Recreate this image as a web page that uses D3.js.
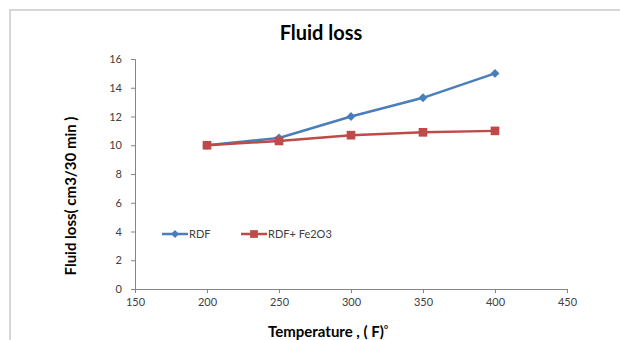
<!DOCTYPE html>
<html lang="en">
<head>
    <meta charset="UTF-8">
    <script src="https://cdn.jsdelivr.net/npm/d3@7"></script>
    <title>Fluid loss</title>
    <style>
        * { margin: 0; padding: 0; box-sizing: border-box; }
        body { background: #fff; }
        svg { display: block; font-family: Lato, "Open Sans", sans-serif; }
    </style>
</head>
<body>
    <svg width="620" height="340"></svg>
    <script>
        let temps = [200, 250, 300, 350, 400]
        let rdf = [10, 10.5, 12, 13.3, 15]
        let rdfFe = [10, 10.3, 10.7, 10.9, 11]
        let xTicks = [150, 200, 250, 300, 350, 400, 450]
        let yTicks = [0, 2, 4, 6, 8, 10, 12, 14, 16]

        let svg = d3.select('svg')

        // chart frame
        svg.append('path')
            .attr('d', 'M10,340 L10,10 L620,10')
            .attr('fill', 'none')
            .attr('stroke', '#c9c9c9')
            .attr('stroke-width', 1.5)

        let x = d3.scaleLinear().domain([150, 450]).range([135, 567])
        let y = d3.scaleLinear().domain([0, 16]).range([289, 59])

        let xAxis = svg.append('g')
            .attr('transform', 'translate(0,289)')
            .call(d3.axisBottom(x).tickValues(xTicks).tickSize(4).tickPadding(5))
        let yAxis = svg.append('g')
            .attr('transform', 'translate(135,0)')
            .call(d3.axisLeft(y).tickValues(yTicks).tickSize(4).tickPadding(9))

        for (let g of [xAxis, yAxis]) {
            g.select('.domain').attr('stroke', '#868686')
            g.selectAll('.tick line').attr('stroke', '#868686')
            g.selectAll('.tick text')
                .attr('fill', '#404040')
                .style('font-size', '11px')
                .style('font-family', 'Lato, "Open Sans", sans-serif')
        }

        // rdf uses a square turned 45deg, like an excel diamond
        let series = [
            { name: 'RDF', values: rdf, color: '#4a7ebb', size: 40, rot: 45 },
            { name: 'RDF+ Fe2O3', values: rdfFe, color: '#be4b48', size: 75, rot: 0 }
        ]

        let line = d3.line().x((d, i) => x(temps[i])).y(d => y(d))

        series.forEach(s => {
            svg.append('path')
                .datum(s.values)
                .attr('d', line)
                .attr('fill', 'none')
                .attr('stroke', s.color)
                .attr('stroke-width', 2.5)
            svg.selectAll(null)
                .data(s.values)
                .join('path')
                .attr('transform', (d, i) => `translate(${x(temps[i])},${y(d)}) rotate(${s.rot})`)
                .attr('d', d3.symbol(d3.symbolSquare, s.size))
                .attr('fill', s.color)
        })

        // legend
        let legendX = [162, 241]
        series.forEach((s, i) => {
            let g = svg.append('g').attr('transform', `translate(${legendX[i]},234)`)
            g.append('line').attr('x1', 0).attr('x2', 26).attr('stroke', s.color).attr('stroke-width', 2.5)
            g.append('path').attr('transform', `translate(13,0) rotate(${s.rot})`)
                .attr('d', d3.symbol(d3.symbolSquare, s.size * 0.8)).attr('fill', s.color)
            g.append('text').attr('x', 27).attr('y', 4)
                .style('font-size', '11px').attr('fill', '#404040').text(s.name)
        })

        svg.append('text')
            .attr('x', 321).attr('y', 40)
            .attr('text-anchor', 'middle')
            .style('font-size', '20px').style('font-weight', 'bold')
            .attr('fill', '#000')
            .text('Fluid loss')

        svg.append('text')
            .attr('transform', 'translate(76,196) rotate(-90)')
            .attr('text-anchor', 'middle')
            .style('font-size', '15px').style('font-weight', 'bold')
            .attr('fill', '#000')
            .text('Fluid loss( cm3/30 min )')

        let xl = svg.append('text')
            .attr('x', 268).attr('y', 337)
            .style('font-size', '15px').style('font-weight', 'bold')
            .attr('fill', '#000')
        xl.append('tspan').text('Temperature , ( F)')
        xl.append('tspan').attr('dy', -8).style('font-size', '7px').text('o')
    </script>
</body>
</html>
